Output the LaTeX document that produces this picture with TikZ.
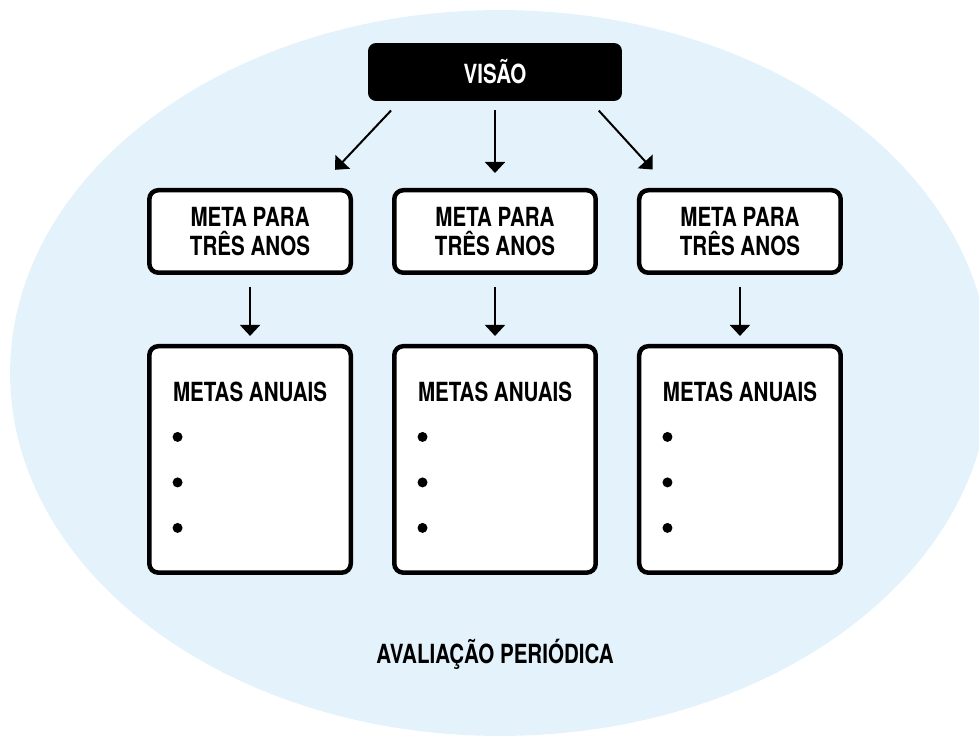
\documentclass[tikz,border=0pt]{standalone}
\usepackage{fontspec}
\setmainfont{TeX Gyre Heros}[FakeStretch=0.78]
\usepackage{tikz}
\usetikzlibrary{arrows.meta}
\usetikzlibrary{positioning}
\definecolor{fundo}{RGB}{228,243,251}
\tikzset{
  caixa/.style={draw, line width=0.09cm, rounded corners=0.18cm, fill=white,
    minimum width=4.03cm, inner sep=0pt, align=center},
  metabox/.style={caixa, minimum height=1.65cm},
  anualbox/.style={caixa, minimum height=4.53cm},
  visaobox/.style={fill=black, text=white, rounded corners=0.16cm,
    minimum width=5.08cm, minimum height=1.16cm, inner sep=0pt},
  titulo/.style={inner sep=0pt},
  bolinha/.style={circle, fill=black, minimum size=0.2cm, inner sep=0pt},
  seta/.style={->, line width=0.04cm}
}

\begin{document}
\begin{tikzpicture}[x=0.02cm, y=-0.02cm, >={Triangle[length=0.22cm,width=0.4cm]},
    font=\fontsize{15}{16.5}\selectfont\bfseries]
    \useasboundingbox (0,0) rectangle (979,736);
    % fundo
    \fill[fundo] (500,373) ellipse [x radius=9.8cm, y radius=7.26cm];

    \node[visaobox] (visao) at (495,72) {VISÃO};
    \node[metabox, below of=visao, node distance=3.19cm] (meta2) {META PARA\\TRÊS ANOS};
    \node[metabox, left of=meta2, node distance=4.9cm] (meta1) {META PARA\\TRÊS ANOS};
    \node[metabox, right of=meta2, node distance=4.9cm] (meta3) {META PARA\\TRÊS ANOS};

    \foreach \i in {1,2,3} {
      \node[anualbox, below of=meta\i, node distance=4.56cm] (anual\i) {};
      \node[titulo, yshift=-0.96cm] (tit\i) at (anual\i.north) {METAS ANUAIS};
      \node[bolinha, below of=tit\i, node distance=0.9cm, xshift=-1.45cm] (b\i1) {};
      \node[bolinha, below of=b\i1, node distance=0.91cm] (b\i2) {};
      \node[bolinha, below of=b\i2, node distance=0.91cm] (b\i3) {};
      \draw[seta, shorten <=0.24cm, shorten >=0.16cm] (meta\i) -- (anual\i);
    }

    \draw[seta, shorten <=0.25cm, shorten >=0.5cm] ([xshift=0.64cm]visao.south west) -- ([xshift=-0.7cm]meta1.north east);
    \draw[seta, shorten <=0.18cm, shorten >=0.3cm] (visao) -- (meta2);
    \draw[seta, shorten <=0.25cm, shorten >=0.5cm] ([xshift=-0.64cm]visao.south east) -- ([xshift=0.65cm]meta3.north west);

    \node[titulo, below of=anual2, node distance=3.89cm] (avaliacao) {AVALIAÇÃO PERIÓDICA};
\end{tikzpicture}
\end{document}
